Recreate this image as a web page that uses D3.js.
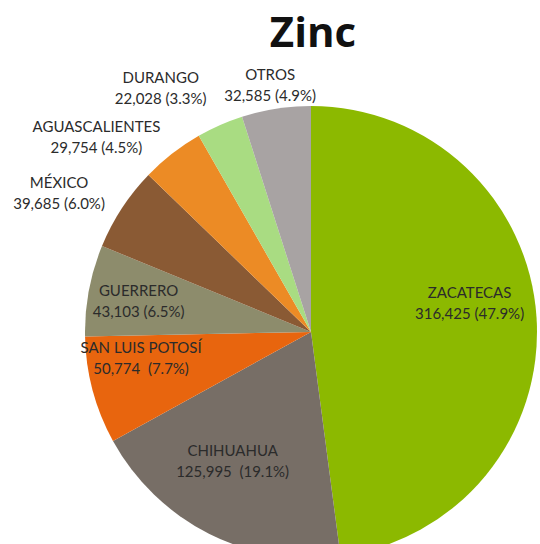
<!DOCTYPE html>
<html>
<head>
<meta charset="utf-8">
<script src="https://cdn.jsdelivr.net/npm/d3@7"></script>
<style>
  body { margin: 0; background: #fff; }
  text { font-family: Lato, "Open Sans", sans-serif; fill: #2b2b2b; white-space: pre; }
</style>
</head>
<body>
<div id="chart"></div>
<script>
// Zinc production by state
var states = ["ZACATECAS", "CHIHUAHUA", "SAN LUIS POTOSÍ", "GUERRERO", "MÉXICO", "AGUASCALIENTES", "DURANGO", "OTROS"];
var values = [316425, 125995, 50774, 43103, 39685, 29754, 22028, 32585];
var valueLabels = ["316,425 (47.9%)", "125,995  (19.1%)", "50,774  (7.7%)", "43,103 (6.5%)", "39,685 (6.0%)", "29,754 (4.5%)", "22,028 (3.3%)", "32,585 (4.9%)"];

var colors = ["#8cb900", "#776e66", "#e8650e", "#8d8c6c", "#8a5a34", "#ec8b25", "#a9dc82", "#a8a3a3"];

// label layout: inside or outside, then nudge from the centroid
var labelOut = [false, false, false, false, true, true, true, true];
var labelNudge = [[12, -16], [-12, 1], [-28, -9], [-28, -1], [-25, 13], [-48, 22], [-41, 7], [1, 24]];

var width = 540, height = 544;
var cx = 311, cy = 332, radius = 226;

var svg = d3.select("#chart").append("svg")
    .attr("width", width)
    .attr("height", height);

svg.append("text")
    .attr("x", 313)
    .attr("y", 47)
    .attr("text-anchor", "middle")
    .style("font-family", "'Open Sans', sans-serif")
    .style("font-weight", "bold")
    .style("font-size", "42px")
    .style("fill", "#111")
    .text("Zinc");

var pie = d3.pie().sort(null).value(d => d);
var arcs = pie(values);

var arc = d3.arc().innerRadius(0).outerRadius(radius);
var arcIn = d3.arc().innerRadius(radius * 0.65).outerRadius(radius * 0.65);
var arcOut = d3.arc().innerRadius(radius * 1.2).outerRadius(radius * 1.2);

var g = svg.append("g").attr("transform", `translate(${cx},${cy})`);

g.selectAll("path")
    .data(arcs)
    .enter().append("path")
    .attr("d", arc)
    .attr("fill", (d, i) => colors[i]);

var labels = g.selectAll(".lbl")
    .data(arcs)
    .enter().append("text")
    .attr("class", "lbl")
    .attr("text-anchor", "middle")
    .style("font-size", "15px")
    .attr("transform", function(d, i) {
        var c = (labelOut[i] ? arcOut : arcIn).centroid(d);
        return `translate(${c[0] + labelNudge[i][0]},${c[1] + labelNudge[i][1] - 2})`;
    });

labels.append("tspan")
    .attr("x", 0)
    .attr("y", -10)
    .attr("dominant-baseline", "middle")
    .text((d, i) => states[i]);

labels.append("tspan")
    .attr("x", 0)
    .attr("y", 11)
    .attr("dominant-baseline", "middle")
    .text((d, i) => valueLabels[i]);
</script>
</body>
</html>
